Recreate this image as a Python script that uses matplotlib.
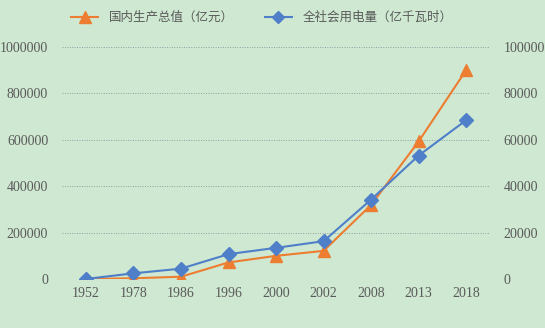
import numpy as np
import matplotlib.pyplot as plt
from matplotlib.lines import Line2D
from matplotlib.ticker import FuncFormatter

plt.rcParams['font.family'] = ['Liberation Serif', 'DejaVu Serif']

years = ['1952', '1978', '1986', '1996', '2000', '2002', '2008', '2013', '2018']
gdp = [679, 3679, 10376, 71814, 100280, 121717, 319516, 592963, 900309]
power = [73, 2498, 4507, 10764, 13472, 16331, 34268, 53223, 68449]

gdp_label = '国内生产总值（亿元）'
power_label = '全社会用电量（亿千瓦时）'

bg = '#cee8d1'
orange = '#ed7d31'
blue = '#4f7fc8'
txt = '#5a5a5a'

fig = plt.figure(figsize=(5.45, 3.28), dpi=100, facecolor=bg)
ax = fig.add_axes([0.114, 0.149, 0.785, 0.708])
ax.set_facecolor(bg)
ax2 = ax.twinx()

x = np.arange(len(years))
ax.plot(x, gdp, color=orange, lw=1.5, marker='^', ms=9, zorder=3)
ax2.plot(x, power, color=blue, lw=1.5, marker='D', ms=7, zorder=3)

ax.set_xlim(-0.5, len(years) - 0.5)
ax.set_ylim(0, 1000000)
ax2.set_ylim(0, 100000)
ax.set_yticks(np.arange(0, 1000001, 200000))
ax2.set_yticks(np.arange(0, 100001, 20000))
plain = FuncFormatter(lambda v, p: '%d' % v)
ax.yaxis.set_major_formatter(plain)
ax2.yaxis.set_major_formatter(plain)
ax.set_xticks(x)
ax.set_xticklabels(years)
ax.grid(axis='y', color='#8f9fa0', ls=(0, (1, 1.5)), lw=0.7)
ax.set_axisbelow(True)

for a in (ax, ax2):
    for s in a.spines.values():
        s.set_visible(False)
    a.tick_params(length=0, labelsize=10, colors=txt)
ax.tick_params(axis='y', pad=10)
ax2.tick_params(axis='y', pad=10)
ax.tick_params(axis='x', pad=6)

handles = [Line2D([], [], color=orange, lw=1.5, marker='^', ms=8),
           Line2D([], [], color=blue, lw=1.5, marker='D', ms=6)]
fig.legend(handles, [gdp_label, power_label], loc='upper center',
           bbox_to_anchor=(0.48, 1.0), ncol=2, frameon=False,
           prop={'family': ['Noto Sans CJK SC', 'DejaVu Sans'], 'size': 9},
           labelcolor=txt, handlelength=2.2, columnspacing=2.5)

fig.savefig('out.png', dpi=100, facecolor=bg)
